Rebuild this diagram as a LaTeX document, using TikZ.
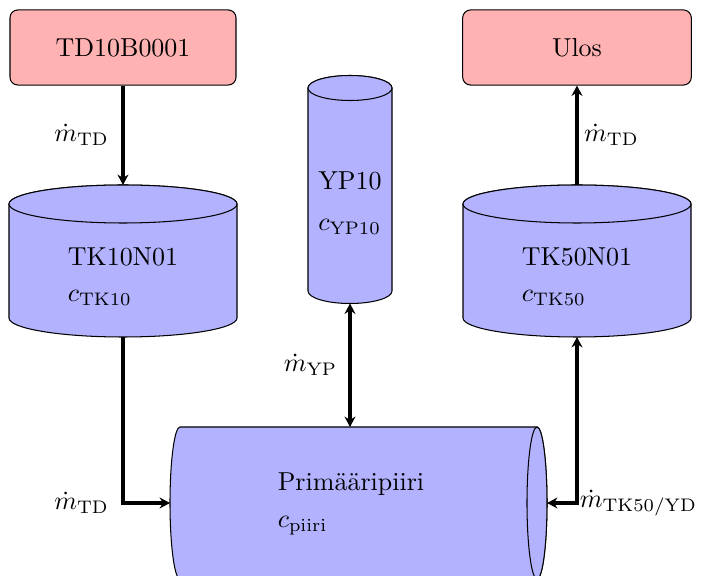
\documentclass[tikz,border=0pt]{standalone}
\usetikzlibrary{arrows.meta}
\begin{document}
\begin{tikzpicture}[x=0.385pt,y=0.385pt,
  >={Stealth[length=4pt,width=4.2pt]},
  box/.style={draw=black, fill=red!30, rounded corners=3pt, line width=0.4pt},
  tank/.style={draw=black, fill=blue!30, line width=0.4pt},
  flow/.style={line width=1.2pt},
  txt/.style={align=left, inner sep=0pt}]
\useasboundingbox (0,0) rectangle (705,576);
\clip (0,0) rectangle (705,576);

% boxes
\node[box, minimum width=87pt, minimum height=28.9pt] (td) at (123,528.5) {TD10B0001};
\node[box, minimum width=88pt, minimum height=28.9pt] (ulos) at (577,528.5) {Ulos};

% TK10N01 tank
\path[tank] (9,372) -- (9,258) arc[start angle=180,end angle=360,x radius=114,y radius=19]
  -- (237,372) arc[start angle=0,end angle=180,x radius=114,y radius=19] -- cycle;
\draw[tank] (123,372) ellipse[x radius=114,y radius=19];
\coordinate (tk10top) at (123,391);
\coordinate (tk10bot) at (123,239);
\node[txt] (tk10) at (123,299.5) {TK10N01\\[2pt]$c_{\mathrm{TK10}}$};

% TK50N01 tank
\path[tank] (463,372) -- (463,258) arc[start angle=180,end angle=360,x radius=114,y radius=19]
  -- (691,372) arc[start angle=0,end angle=180,x radius=114,y radius=19] -- cycle;
\draw[tank] (577,372) ellipse[x radius=114,y radius=19];
\coordinate (tk50top) at (577,391);
\coordinate (tk50bot) at (577,239);
\node[txt] (tk50) at (577,299.5) {TK50N01\\[2pt]$c_{\mathrm{TK50}}$};

% YP10 tank
\path[tank] (308,488) -- (308,285) arc[start angle=180,end angle=360,x radius=42,y radius=12.5]
  -- (392,488) arc[start angle=0,end angle=180,x radius=42,y radius=12.5] -- cycle;
\draw[tank] (350,488) ellipse[x radius=42,y radius=12.5];
\coordinate (ypbot) at (350,272.5);
\node[txt] (yp10) at (350,373) {YP10\\[4pt]$c_{\mathrm{YP10}}$};

% Primaaripiiri (horizontal)
\path[tank] (180,149) -- (537,149) arc[start angle=90,end angle=-90,x radius=10,y radius=76]
  -- (180,-3) arc[start angle=270,end angle=90,x radius=10,y radius=76] -- cycle;
\draw[tank] (537,73) ellipse[x radius=10,y radius=76];
\coordinate (primtop) at (350,149);
\coordinate (primleft) at (170,73);
\coordinate (primright) at (547,73);
\node[txt] (prim) at (351,72) {Primääripiiri\\[2pt]$c_{\mathrm{piiri}}$};

% flows
\draw[flow,->] (td.south) -- node[left, xshift=-1.5pt] (l1) {$\dot m_{\mathrm{TD}}$} (tk10top);
\draw[flow,->,line width=1.5pt] (tk50top) -- node[right, inner sep=2pt] (l2) {$\dot m_{\mathrm{TD}}$} (ulos.south);
\draw[flow,<->] (ypbot) -- node[left, xshift=-1pt] (l3) {$\dot m_{\mathrm{YP}}$} (primtop);
\draw[flow,->] (tk10bot) |- node[pos=0.5, left, xshift=-1.5pt] (l4) {$\dot m_{\mathrm{TD}}$} (primleft);
\draw[flow,<->] (primright) -| node[pos=0.5, right, inner sep=0.5pt] (l5) {$\dot m_{\mathrm{TK50/YD}}$} (tk50bot);
\end{tikzpicture}
\end{document}
